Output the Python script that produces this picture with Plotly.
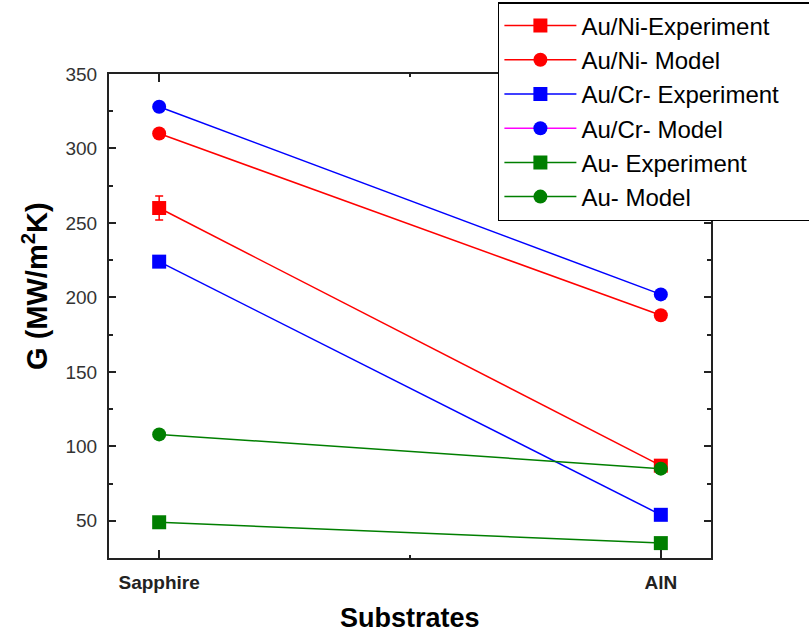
import plotly.graph_objects as go

substrates = ["Sapphire", "AlN"]

auni_exp = [260, 87]
auni_exp_err = [8, 3]
auni_model = [310, 188]
aucr_exp = [224, 54]
aucr_model = [328, 202]
au_exp = [49, 35]
au_model = [108, 85]

RED = "#ff0000"
BLUE = "#0000ff"
GREEN = "#007f00"
MAGENTA = "#ff00ff"

xpos = [0, 1]

fig = go.Figure()

def add_series(name, y, color, symbol, err=None, legend_line=None):
    kw = {}
    if err is not None:
        kw["error_y"] = dict(type="data", array=err, visible=True,
                             color=color, thickness=1.5, width=4)
    fig.add_trace(go.Scatter(
        x=xpos, y=y, mode="lines+markers", name=name,
        line=dict(color=color, width=1.5),
        marker=dict(color=color, symbol=symbol, size=14),
        showlegend=legend_line is None, **kw))
    if legend_line is not None:
        # legend entry with its own line colour
        fig.add_trace(go.Scatter(
            x=[None], y=[None], mode="lines+markers", name=name,
            line=dict(color=legend_line, width=1.5),
            marker=dict(color=color, symbol=symbol, size=14)))

add_series("Au/Ni-Experiment", auni_exp, RED, "square", err=auni_exp_err)
add_series("Au/Ni- Model", auni_model, RED, "circle")
add_series("Au/Cr- Experiment\u00a0\u00a0\u00a0\u00a0", aucr_exp, BLUE, "square")
add_series("Au/Cr- Model", aucr_model, BLUE, "circle", legend_line=MAGENTA)
add_series("Au- Experiment", au_exp, GREEN, "square")
add_series("Au- Model", au_model, GREEN, "circle")

PLOT_TOP, PLOT_BOTTOM = 74, 558

def paper_y(px):
    return (PLOT_BOTTOM - px) / (PLOT_BOTTOM - PLOT_TOP)

fig.update_layout(
    width=809, height=635,
    margin=dict(l=109, r=98, t=PLOT_TOP, b=635 - PLOT_BOTTOM,
                autoexpand=False),
    plot_bgcolor="white", paper_bgcolor="white",
    font=dict(family="Arial, Liberation Sans", color="#222"),
    legend=dict(x=0.646, y=paper_y(2), xanchor="left", yanchor="top",
                bgcolor="white", bordercolor="black", borderwidth=1.5,
                font=dict(size=24, color="black"), itemwidth=72,
                tracegroupgap=0),
    annotations=[
        dict(text="<b>G (MW/m<sup>2</sup>K)</b>", textangle=-90,
             xref="paper", yref="paper", x=-0.123, y=paper_y(286),
             xanchor="center", yanchor="middle", showarrow=False,
             font=dict(size=29, color="black")),
        dict(text="<b>Substrates</b>",
             xref="paper", yref="paper", x=0.5, y=paper_y(618),
             xanchor="center", yanchor="middle", showarrow=False,
             font=dict(size=27, color="black")),
    ],
)

fig.update_xaxes(
    range=[-0.1, 1.1], tickvals=xpos,
    ticktext=["<b>Sapphire</b>", "<b>AlN</b>"],
    tickfont=dict(size=19, color="#222"), ticklabelstandoff=6,
    automargin=False,
    showgrid=False, zeroline=False,
    showline=True, linecolor="#222", linewidth=2, mirror="ticks",
    ticks="inside", ticklen=8, tickcolor="#222", tickwidth=1.5,
    minor=dict(tickvals=[0.5], ticks="inside", ticklen=3, tickcolor="#222"),
)
fig.update_yaxes(
    range=[25, 350], tickvals=[50, 100, 150, 200, 250, 300, 350],
    tickfont=dict(size=19, color="#333"), ticklabelstandoff=6,
    automargin=False,
    showgrid=False, zeroline=False,
    showline=True, linecolor="#222", linewidth=2, mirror="ticks",
    ticks="inside", ticklen=7, tickcolor="#222", tickwidth=1.5,
    minor=dict(dtick=25, tick0=0, ticks="inside", ticklen=4, tickcolor="#222"),
)

fig.write_html("out.html")
